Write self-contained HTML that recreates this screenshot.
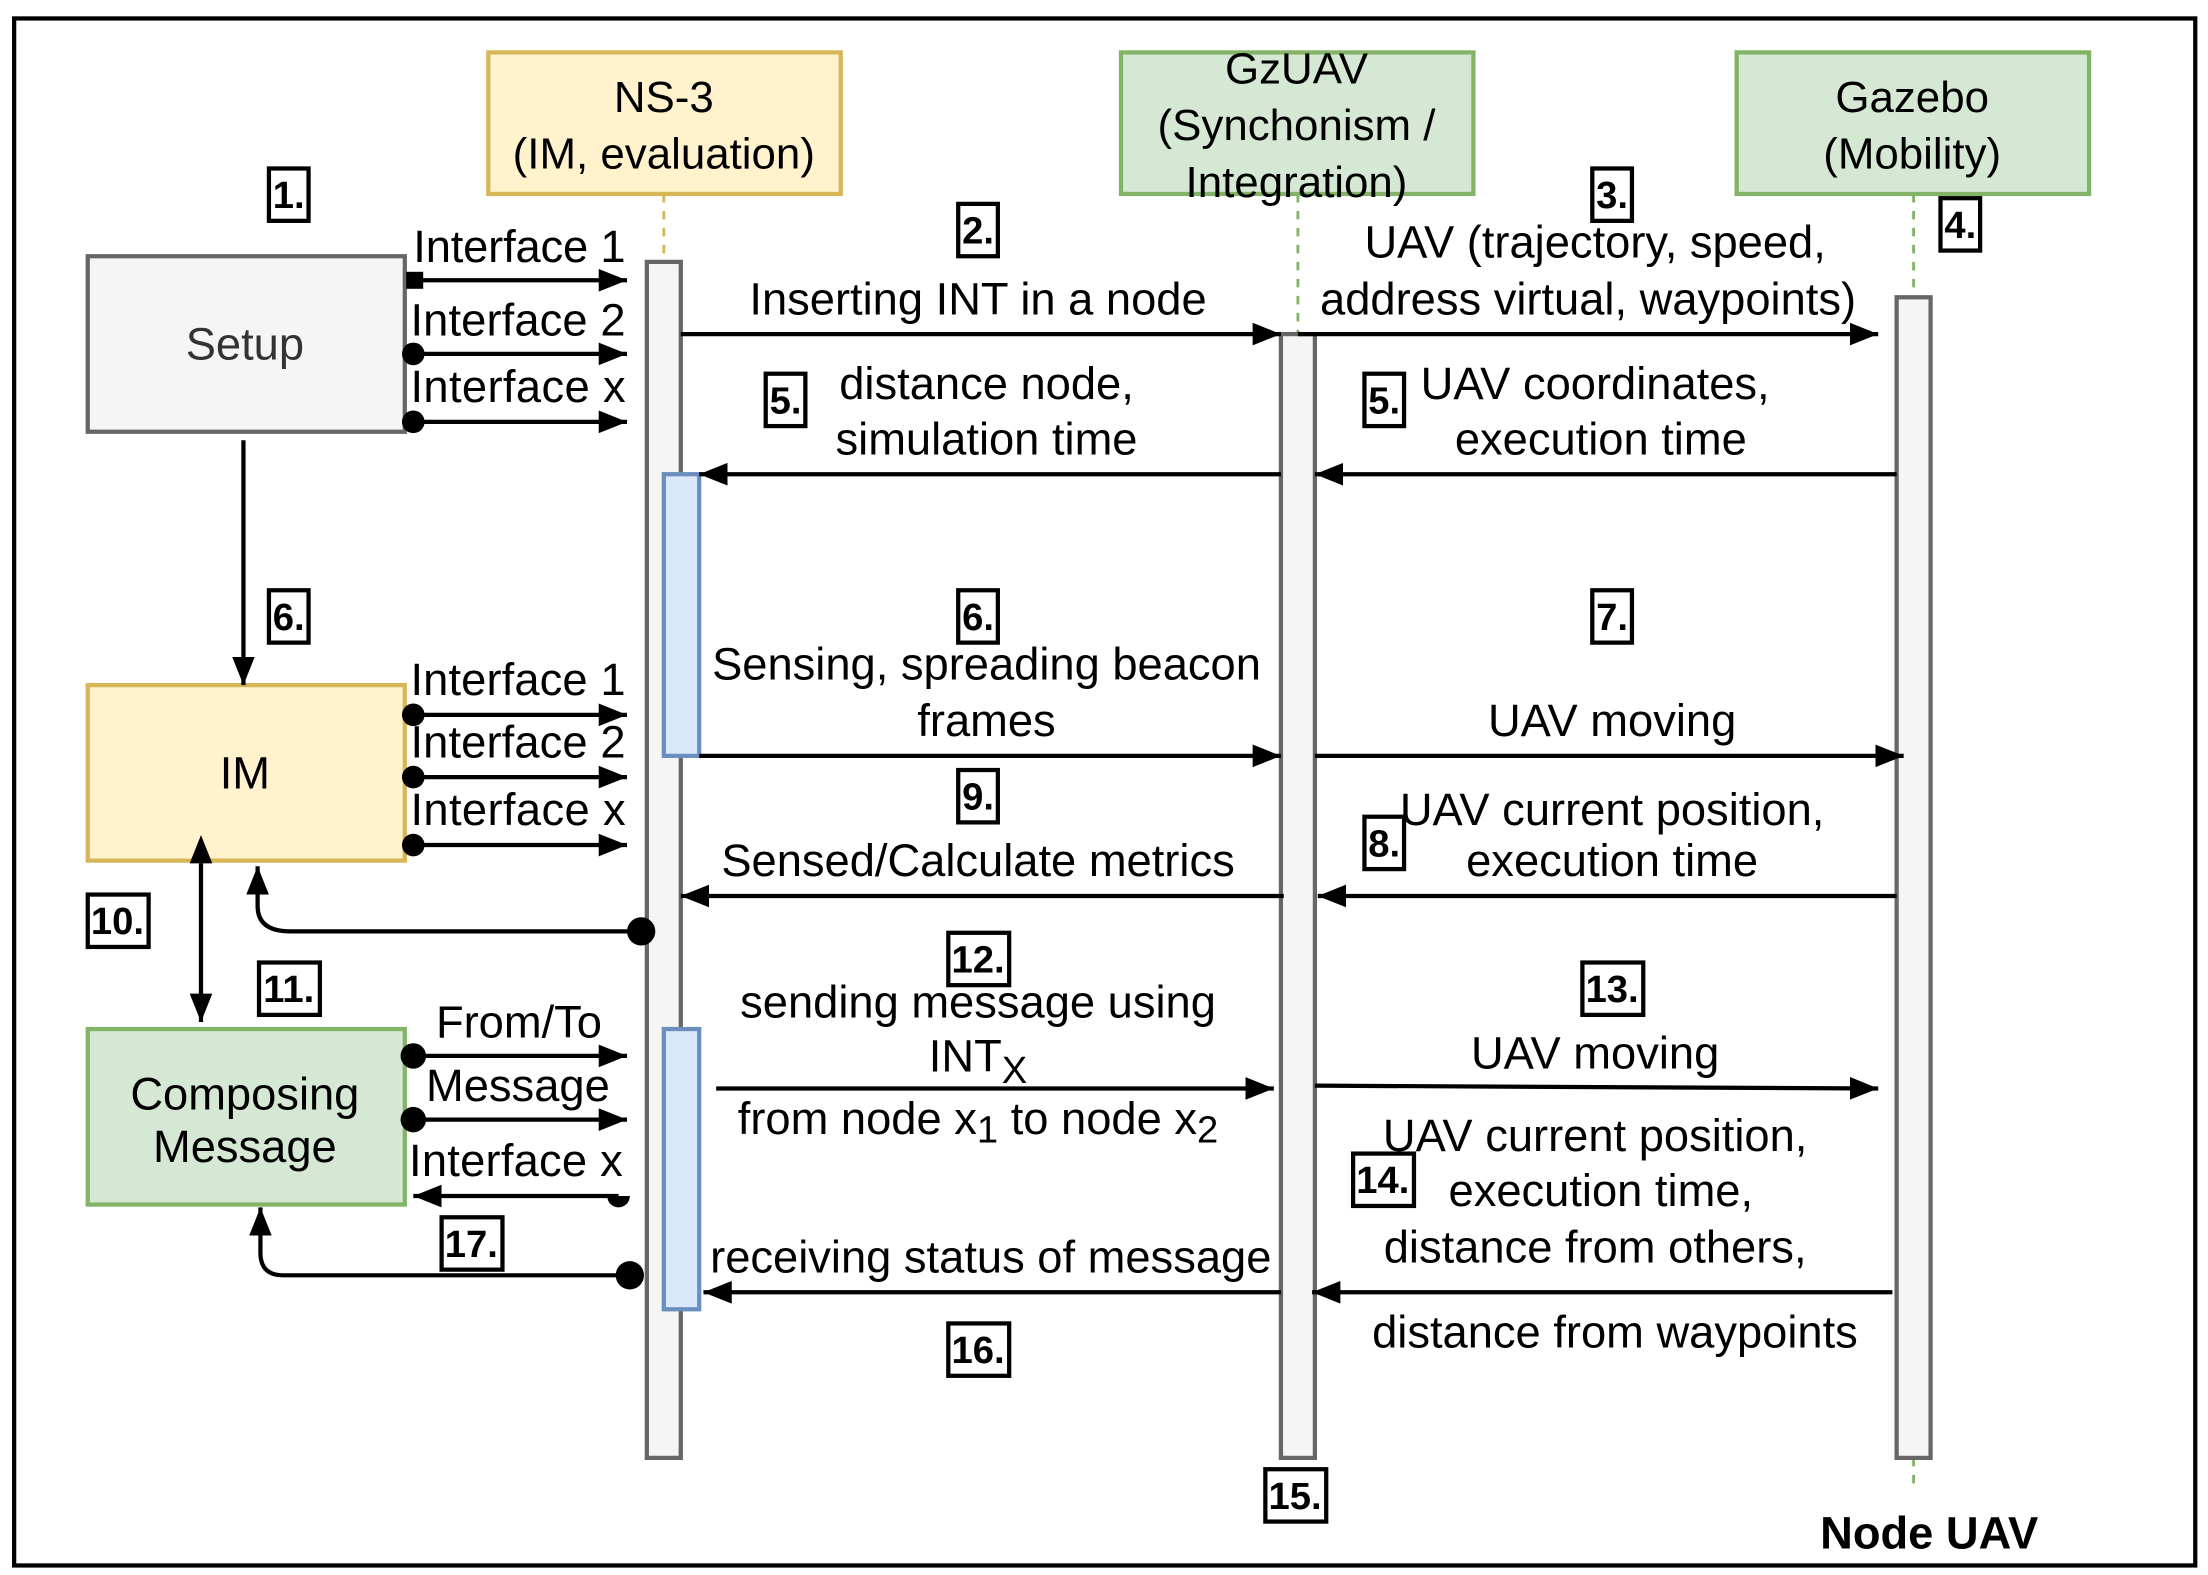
<!DOCTYPE html>
<html><head><meta charset="utf-8"><style>html,body{margin:0;padding:0;background:#fff}svg{display:block}</style></head><body>
<svg width="2208" height="1575" viewBox="0 0 1560 1112.7" xmlns="http://www.w3.org/2000/svg" font-family="Liberation Sans, Arial, sans-serif">
<defs>
<marker id="a" viewBox="0 0 20 16" refX="20" refY="8" markerWidth="20" markerHeight="16" markerUnits="userSpaceOnUse" orient="auto"><path d="M0 0L20 8L0 16z" fill="#000"/></marker>
<marker id="a2" viewBox="0 0 20 16" refX="0" refY="8" markerWidth="20" markerHeight="16" markerUnits="userSpaceOnUse" orient="auto-start-reverse"><path d="M0 0L20 8L0 16z" fill="#000"/></marker>
</defs>
<rect x="0" y="0" width="1560" height="1113" fill="#fff"/>
<rect x="10" y="13" width="1541" height="1093" fill="none" stroke="#000" stroke-width="3"/>

<rect x="345" y="37" width="249" height="100" fill="#fff2cc" stroke="#d6b656" stroke-width="3"/>
<rect x="792" y="37" width="249" height="100" fill="#d5e8d4" stroke="#82b366" stroke-width="3"/>
<rect x="1227" y="37" width="249" height="100" fill="#d5e8d4" stroke="#82b366" stroke-width="3"/>
<g font-size="31" text-anchor="middle" fill="#000">
<text x="469" y="79">NS-3</text><text x="469" y="119">(IM, evaluation)</text>
<text x="916" y="59">GzUAV</text><text x="916" y="99">(Synchonism /</text><text x="916" y="139">Integration)</text>
<text x="1351" y="79">Gazebo</text><text x="1351" y="119">(Mobility)</text>
</g>
<g stroke-dasharray="6,6" stroke-width="2">
<line x1="469" y1="137" x2="469" y2="185" stroke="#d6b656"/>
<line x1="917" y1="137" x2="917" y2="236" stroke="#82b366"/>
<line x1="1352" y1="137" x2="1352" y2="210" stroke="#82b366"/>
<line x1="1352" y1="1030" x2="1352" y2="1054" stroke="#82b366"/>
</g>
<g fill="#f5f5f5" stroke="#666" stroke-width="3">
<rect x="457" y="185" width="24" height="845"/>
<rect x="905" y="236" width="24" height="794"/>
<rect x="1340" y="210" width="24" height="820"/>
</g>
<g fill="#dae8fc" stroke="#6c8ebf" stroke-width="3">
<rect x="469" y="335" width="25" height="199"/>
<rect x="469" y="727" width="25" height="198"/>
</g>

<rect x="62" y="181" width="224" height="124" fill="#f5f5f5" stroke="#666" stroke-width="3"/>
<rect x="62" y="484" width="224" height="124" fill="#fff2cc" stroke="#d6b656" stroke-width="3"/>
<rect x="62" y="727" width="224" height="124" fill="#d5e8d4" stroke="#82b366" stroke-width="3"/>
<g font-size="32" text-anchor="middle">
<text x="173" y="254" fill="#333">Setup</text>
<text x="173" y="557">IM</text>
<text x="173" y="784">Composing</text><text x="173" y="821">Message</text>
</g>

<g stroke="#000" stroke-width="3" fill="none">
<line x1="172" y1="311" x2="172" y2="484" marker-end="url(#a)"/>
<line x1="142" y1="610" x2="142" y2="722" marker-end="url(#a)" marker-start="url(#a2)"/>
<line x1="292" y1="198" x2="443" y2="198" marker-end="url(#a)"/>
<line x1="292" y1="250" x2="443" y2="250" marker-end="url(#a)"/>
<line x1="292" y1="298" x2="443" y2="298" marker-end="url(#a)"/>
<line x1="292" y1="505" x2="443" y2="505" marker-end="url(#a)"/>
<line x1="292" y1="549" x2="443" y2="549" marker-end="url(#a)"/>
<line x1="292" y1="597" x2="443" y2="597" marker-end="url(#a)"/>
<line x1="292" y1="746" x2="443" y2="746" marker-end="url(#a)"/>
<line x1="292" y1="791" x2="443" y2="791" marker-end="url(#a)"/>
<line x1="437" y1="845" x2="292" y2="845" marker-end="url(#a)"/>
<line x1="481" y1="236" x2="905" y2="236" marker-end="url(#a)"/>
<line x1="917" y1="236" x2="1327" y2="236" marker-end="url(#a)"/>
<line x1="905" y1="335" x2="494" y2="335" marker-end="url(#a)"/>
<line x1="1340" y1="335" x2="929" y2="335" marker-end="url(#a)"/>
<line x1="494" y1="534" x2="905" y2="534" marker-end="url(#a)"/>
<line x1="929" y1="534" x2="1345" y2="534" marker-end="url(#a)"/>
<line x1="907" y1="633" x2="481" y2="633" marker-end="url(#a)"/>
<line x1="1340" y1="633" x2="931" y2="633" marker-end="url(#a)"/>
<line x1="506" y1="769" x2="900" y2="769" marker-end="url(#a)"/>
<line x1="929" y1="767" x2="1327" y2="769" marker-end="url(#a)"/>
<line x1="905" y1="913" x2="497" y2="913" marker-end="url(#a)"/>
<line x1="1337" y1="913" x2="927" y2="913" marker-end="url(#a)"/>
<path d="M453 658 H205 Q182 658 182 640 V612" marker-end="url(#a)"/>
<path d="M445 901 H200 Q184 901 184 885 V853" marker-end="url(#a)"/>
</g>
<g fill="#000">
<rect x="287" y="192" width="12" height="12"/>
<circle cx="292" cy="250" r="8"/><circle cx="292" cy="298" r="8"/>
<circle cx="292" cy="505" r="8"/><circle cx="292" cy="549" r="8"/><circle cx="292" cy="597" r="8"/>
<circle cx="292" cy="746" r="9"/><circle cx="292" cy="791" r="9"/>
<path d="M429 845 A8 8 0 0 0 445 845 Z"/>
<circle cx="453" cy="658" r="10"/><circle cx="445" cy="901" r="10"/>
</g>

<g font-size="32" fill="#000">
<text x="292" y="185" textLength="150">Interface 1</text><text x="290" y="237" textLength="152">Interface 2</text><text x="290" y="284" textLength="152">Interface x</text>
<text x="290" y="491" textLength="152">Interface 1</text><text x="290" y="535" textLength="152">Interface 2</text><text x="290" y="583" textLength="152">Interface x</text>
<text x="308" y="733">From/To</text><text x="301" y="778">Message</text><text x="289" y="831" textLength="151">Interface x</text>
</g>
<g font-size="32" text-anchor="middle" fill="#000">
<text x="691" y="222">Inserting INT in a node</text>
<text x="1127" y="182">UAV (trajectory, speed,</text><text x="1122" y="222">address virtual, waypoints)</text>
<text x="697" y="282">distance node,</text><text x="697" y="321">simulation time</text>
<text x="1127" y="282">UAV coordinates,</text><text x="1131" y="321">execution time</text>
<text x="697" y="480">Sensing, spreading beacon</text><text x="697" y="520">frames</text>
<text x="1139" y="520">UAV moving</text>
<text x="691" y="619">Sensed/Calculate metrics</text>
<text x="1139" y="583">UAV current position,</text><text x="1139" y="619">execution time</text>
<text x="691" y="719">sending message using</text>
<text x="691" y="757">INT<tspan font-size="27" dy="8">X</tspan></text>
<text x="691" y="801">from node x<tspan font-size="27" dy="6">1</tspan><tspan dy="-6"> to node x</tspan><tspan font-size="27" dy="6">2</tspan></text>
<text x="1127" y="755">UAV moving</text>
<text x="700" y="899">receiving status of message</text>
<text x="1127" y="813">UAV current position,</text><text x="1131" y="852">execution time,</text>
<text x="1127" y="892">distance from others,</text><text x="1141" y="952">distance from waypoints</text>
<text x="1363" y="1094" font-weight="bold">Node UAV</text>
</g>

<g font-size="27" font-weight="bold" text-anchor="middle" fill="#000">
<g stroke="#000" stroke-width="3" fill="none">
<rect x="190" y="119" width="28" height="37"/><rect x="190" y="417" width="28" height="37"/>
<rect x="62" y="632" width="43" height="37"/><rect x="183" y="680" width="43" height="37"/>
<rect x="312" y="860" width="43" height="37"/>
<rect x="677" y="144" width="28" height="37"/><rect x="541" y="264" width="28" height="37"/>
<rect x="677" y="417" width="28" height="37"/><rect x="677" y="544" width="28" height="37"/>
<rect x="670" y="659" width="43" height="37"/><rect x="670" y="935" width="43" height="37"/>
<rect x="894" y="1038" width="43" height="37"/>
<rect x="1125" y="119" width="28" height="37"/><rect x="1371" y="140" width="28" height="37"/>
<rect x="964" y="264" width="28" height="37"/><rect x="1125" y="417" width="28" height="37"/>
<rect x="964" y="577" width="28" height="37"/><rect x="1118" y="680" width="43" height="37"/>
<rect x="956" y="815" width="43" height="37"/>
</g>
<text x="204" y="147">1.</text><text x="204" y="445">6.</text>
<text x="83" y="660">10.</text><text x="204" y="708">11.</text><text x="333" y="888">17.</text>
<text x="691" y="172">2.</text><text x="555" y="292">5.</text><text x="691" y="445">6.</text>
<text x="691" y="572">9.</text><text x="691" y="687">12.</text><text x="691" y="963">16.</text>
<text x="915" y="1066">15.</text><text x="1139" y="147">3.</text><text x="1385" y="168">4.</text>
<text x="978" y="292">5.</text><text x="1139" y="445">7.</text><text x="978" y="605">8.</text>
<text x="1139" y="708">13.</text><text x="977" y="843">14.</text>
</g>
</svg>
</body></html>
